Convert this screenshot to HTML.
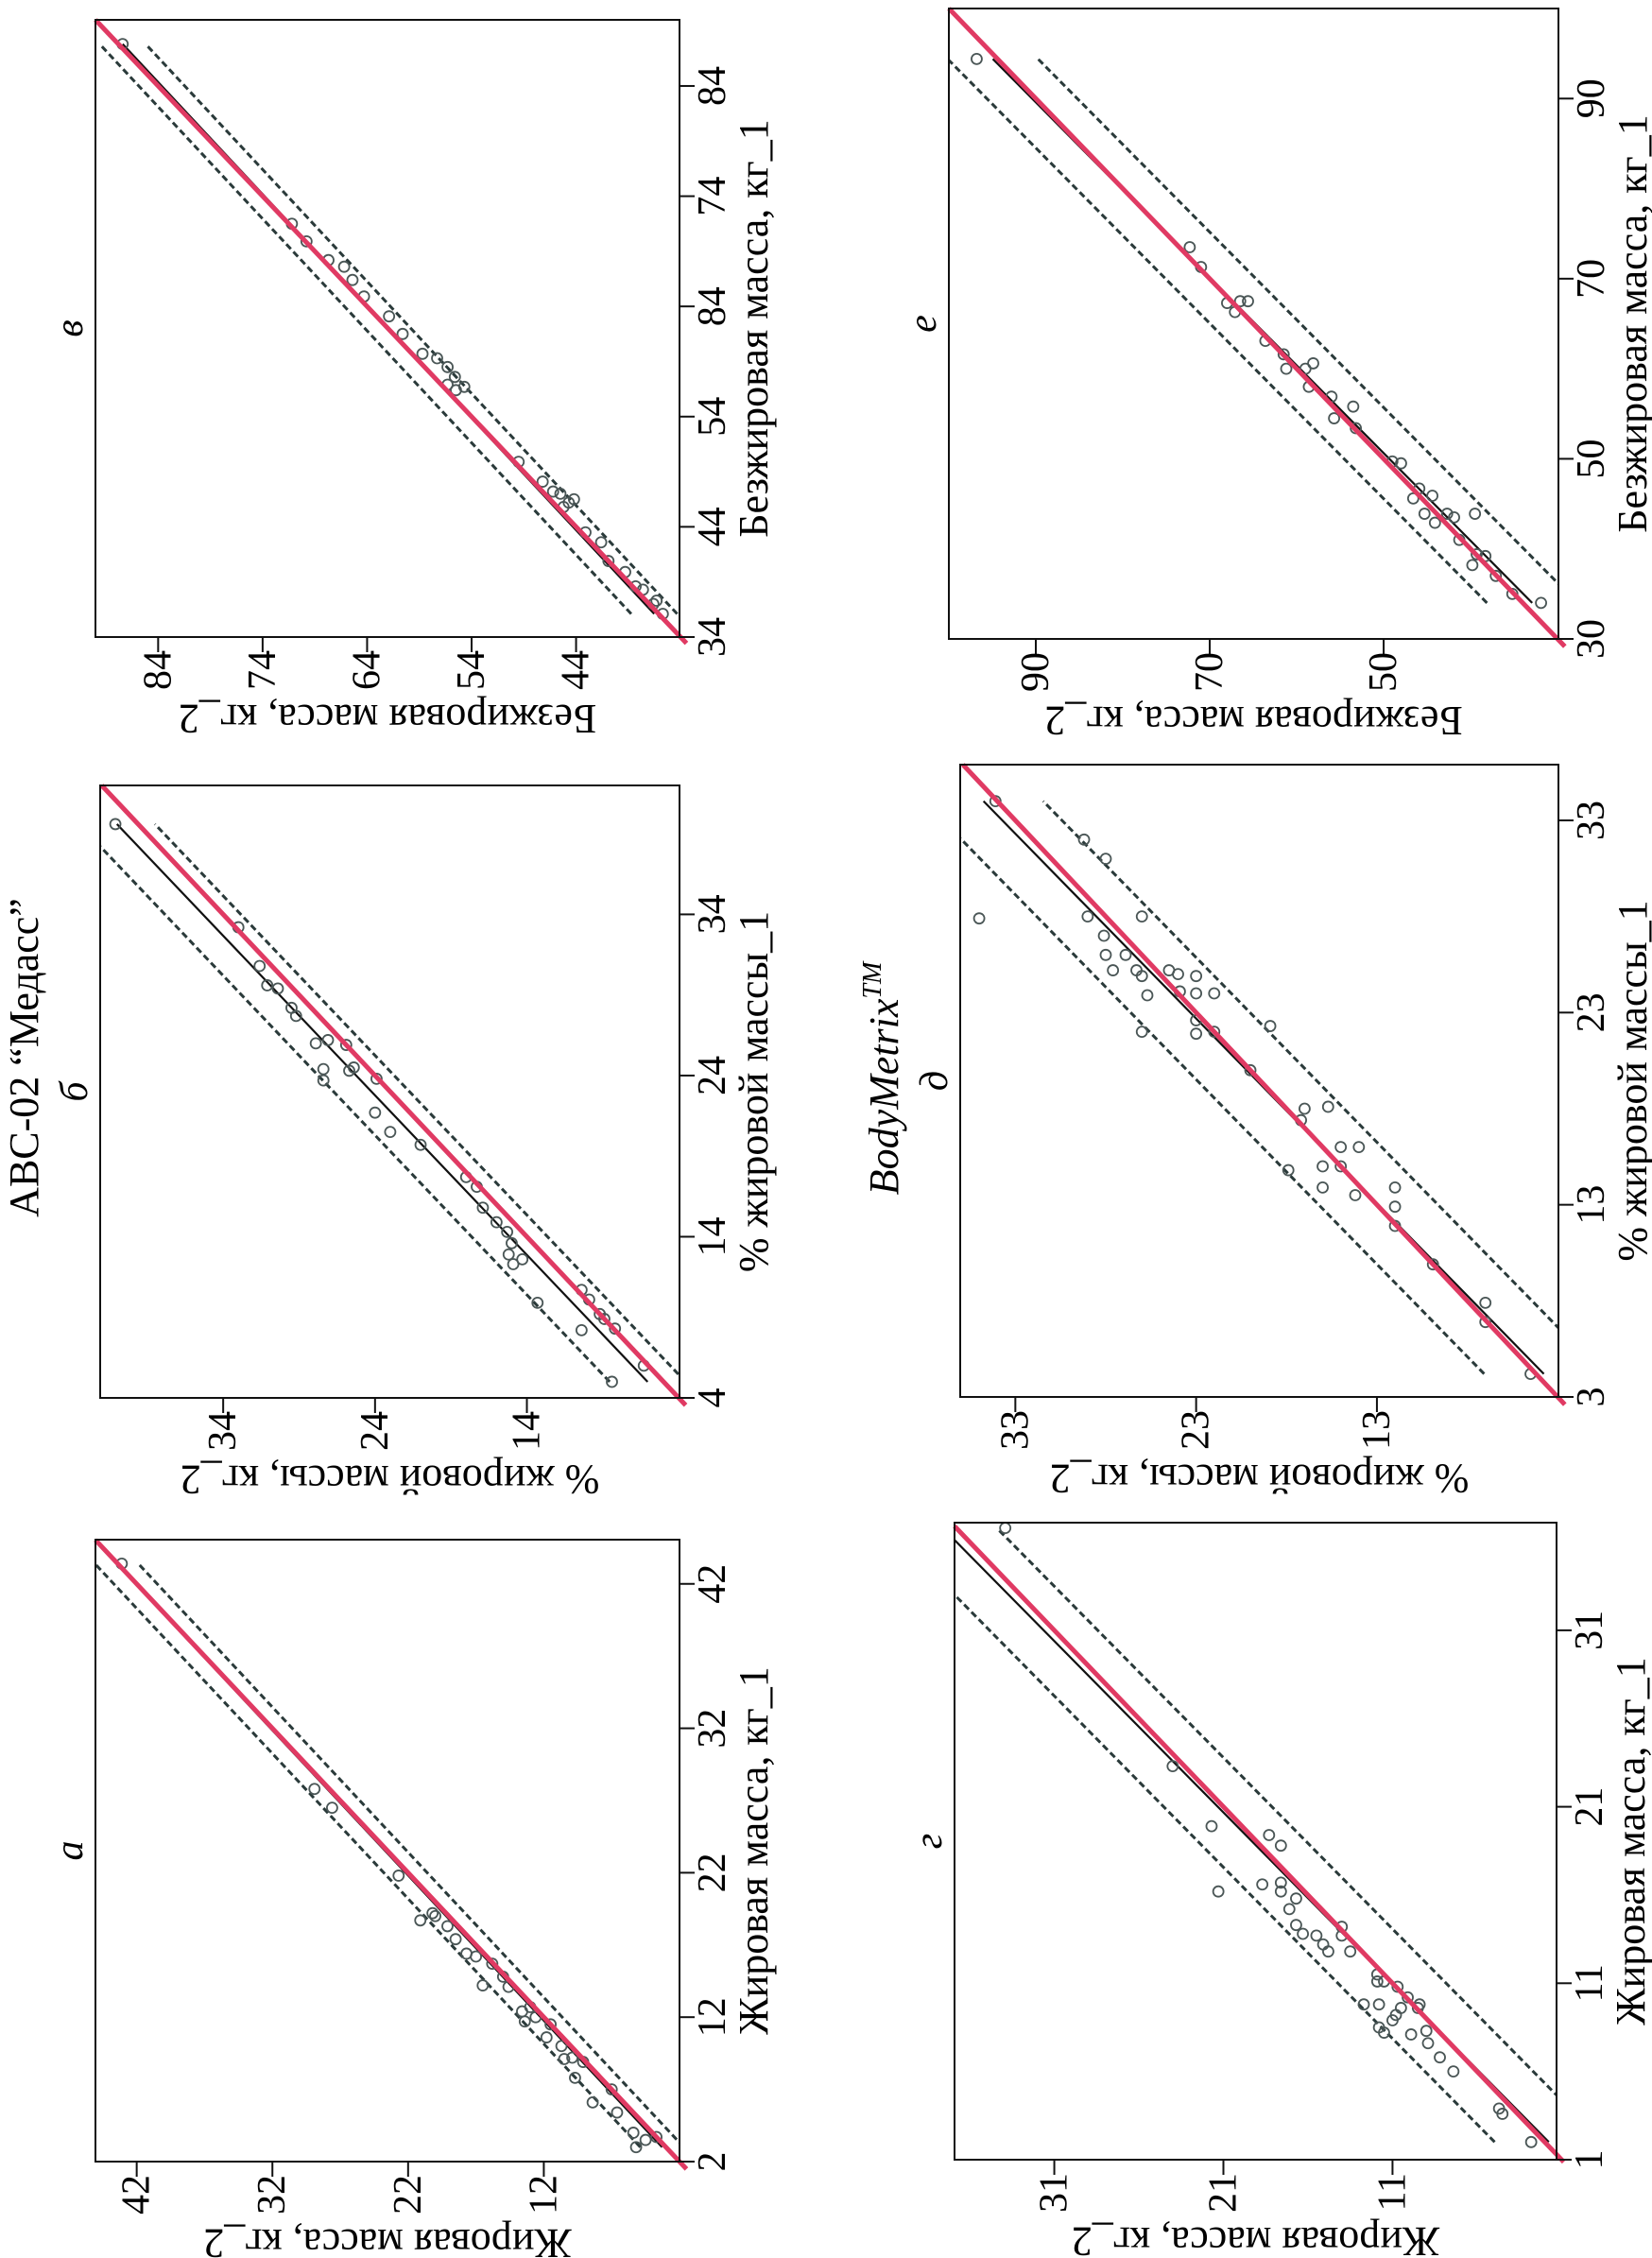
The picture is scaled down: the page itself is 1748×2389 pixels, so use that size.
<!DOCTYPE html>
<html><head><meta charset="utf-8">
<style>
html,body{margin:0;padding:0;background:#fff;}
svg{display:block;font-family:"Liberation Serif","DejaVu Serif",serif;}
</style></head>
<body>
<svg id="fig" xmlns="http://www.w3.org/2000/svg" width="1748" height="2389" viewBox="0 0 1748 2389">
<rect width="1748" height="2389" fill="#fff"/>
<g id="root" transform="translate(0,2389) rotate(-90)">
<text x="1270" y="40" font-size="44" text-anchor="middle">ABC-02 “Медасс”</text>
<text x="1248" y="950" font-size="44" font-style="italic" text-anchor="middle">BodyMetrix<tspan font-size="28" dy="-18">TM</tspan></text>
</g>
</svg>
<script>
// ---- data arrays ----
const aX=[43.4,27.8,26.5,21.8,18.7,19.2,18.3,17.4,16.4,14.2,15.7,14.8,12.4,11.7,12.7,10.6,11.5,9.1,9.2,7.8,8.9,6.1,7.0,5.4,4.0,3.0,3.5,3.7,10.0,12.0,14.1,16.2,19.0];
const aY=[43.1,28.9,27.6,22.7,21.1,20.2,19.1,18.5,17.7,16.5,15.8,15.0,13.6,13.4,13.0,11.8,11.5,10.5,9.9,9.7,9.1,8.4,7.0,6.6,5.4,5.2,4.5,3.7,10.7,12.6,14.6,17.0,20.0];
const bX=[39.6,33.2,30.8,29.6,29.4,28.2,27.7,26.0,26.2,24.4,23.7,25.9,24.3,24.5,23.8,21.7,20.5,19.7,17.7,17.1,15.8,14.9,14.3,13.6,12.9,12.3,12.6,9.9,10.7,10.1,9.2,8.2,5.0,6.0,8.9,8.3];
const bY=[41.1,33.0,31.6,31.1,30.4,29.5,29.2,27.9,27.1,27.4,27.4,25.9,25.7,25.4,23.9,24.0,23.0,21.0,18.0,17.3,16.9,16.0,15.3,15.0,15.2,14.9,14.3,13.3,10.4,9.9,9.2,10.4,8.4,6.3,8.9,8.2];
const vX=[87.8,69.9,67.6,66.4,64.9,63.1,61.5,59.7,59.3,58.5,57.6,56.9,56.7,56.4,49.9,48.1,47.2,47.0,46.2,46.5,45.8,43.5,42.6,40.9,39.9,38.3,38.6,37.3,36.1,37.0,71.5,68.2];
const vY=[87.4,69.8,66.2,65.4,64.3,61.9,60.6,58.7,57.3,56.3,55.6,56.3,54.7,55.5,49.5,47.2,46.2,45.5,44.7,44.2,45.2,43.1,41.6,40.9,39.3,37.6,38.3,36.3,35.7,36.6,71.2,67.7];
const gX=[36.8,23.3,19.9,16.2,16.6,19.4,18.8,16.7,16.2,15.2,15.8,14.3,13.8,13.7,13.2,12.8,14.2,13.7,12.8,9.8,11.5,11.1,9.8,11.1,8.5,8.2,8.9,9.2,9.6,10.8,10.2,8.1,9.6,9.8,8.3,7.6,6.8,6.0,3.9,3.6,2.0];
const gY=[33.9,24.0,21.7,21.3,18.7,18.3,17.6,17.6,17.6,17.1,16.7,16.7,16.3,15.5,15.1,14.8,14.0,14.0,13.5,12.7,11.9,11.9,11.8,11.5,11.8,11.5,11.0,10.8,10.5,10.7,10.1,9.9,9.5,9.4,9.0,8.9,8.2,7.4,4.7,4.5,2.8];
const dX=[34.0,27.9,32.0,31.0,28.0,28.0,27.0,26.0,25.2,26.0,25.2,24.9,23.9,22.0,25.2,25.0,24.1,24.9,24.0,24.0,22.6,21.9,22.0,22.3,20.0,14.8,17.4,18.0,18.1,13.9,15.0,16.0,15.0,16.0,13.5,13.9,12.9,11.9,9.9,7.9,6.9,4.2];
const dY=[34.1,35.0,29.2,28.0,29.0,26.0,28.1,28.0,27.6,26.9,26.3,26.0,25.7,26.0,24.5,24.0,23.9,23.0,23.0,22.0,23.0,23.0,22.0,18.9,20.0,17.9,17.2,17.0,15.7,16.0,16.0,15.0,15.0,14.0,14.2,12.0,12.0,12.0,9.9,7.0,7.0,4.5];
const eX=[94.4,73.5,71.3,67.3,66.3,67.5,67.5,63.1,61.6,60.0,60.0,60.6,58.0,56.9,54.5,55.8,53.4,49.7,49.5,45.6,46.7,43.9,42.9,43.9,43.5,41.0,43.9,38.2,39.4,39.2,37.0,35.0,34.0,45.9];
const eY=[96.8,72.3,71.0,68.0,67.1,66.5,65.6,63.6,61.5,61.2,59.0,58.1,58.6,56.0,55.7,53.5,53.2,49.0,48.0,46.6,45.9,45.3,44.1,42.7,41.9,41.3,39.5,39.8,39.3,38.3,37.1,35.2,31.9,44.4];
// regression intercept, slope, band half-width
const fitA=[0.3,0.995,1.6];
const fitB=[1.0,1.01,2.5];
const fitV=[1.0,0.984,2.2];
const fitG=[-0.3,1.03,3.2];
const fitD=[-0.6,1.04,3.3];
const fitE=[-2.0,1.027,5.2];
// tick labels
const aTicks=["2","12","22","32","42"];
const bTicks=["4","14","24","34"];
const vXTicks=["34","44","54","84","74","84"];
const vYTicks=["44","54","64","74","84"];
const gTicks=["1","11","21","31"];
const dTicks=["3","13","23","33"];
const eTicks=["30","50","70","90"];

const NS="http://www.w3.org/2000/svg";
const root=document.getElementById('root');
function mk(tag,attrs,parent){const e=document.createElementNS(NS,tag);for(const k in attrs)e.setAttribute(k,attrs[k]);(parent||root).appendChild(e);return e;}
function aFitGet(k){return {a:fitA,b:fitB,v:fitV,g:fitG,d:fitD,e:fitE}[k];}

const panels=[
 {id:'a',letter:'а',X:aX,Y:aY,fit:aFitGet('a'),box:[102,760,101,719],xr:[2,45.06],yr:[2,45.04],xt:aTicks.map(Number),xl:aTicks,yt:[12,22,32,42],yl:["12","22","32","42"],xtitle:'Жировая масса, кг_1',ytitle:'Жировая масса, кг_2'},
 {id:'b',letter:'б',X:bX,Y:bY,fit:aFitGet('b'),box:[910,1558,106,719],xr:[4,42],yr:[3.95,42.1],xt:bTicks.map(Number),xl:bTicks,yt:[14,24,34],yl:["14","24","34"],xtitle:'% жировой массы_1',ytitle:'% жировой массы, кг_2'},
 {id:'v',letter:'в',X:vX,Y:vY,fit:aFitGet('v'),box:[1715,2368,101,719],xr:[34,90],yr:[34.1,90],xt:[34,44,54,64,74,84],xl:vXTicks,yt:vYTicks.map(Number),yl:vYTicks,xtitle:'Безжировая масса, кг_1',ytitle:'Безжировая масса, кг_2'},
 {id:'g',letter:'г',X:gX,Y:gY,fit:aFitGet('g'),box:[104,778,1010,1647],xr:[1,37.1],yr:[1.3,36.9],xt:gTicks.map(Number),xl:gTicks,yt:[11,21,31],yl:["11","21","31"],xtitle:'Жировая масса, кг_1',ytitle:'Жировая масса, кг_2'},
 {id:'d',letter:'д',X:dX,Y:dY,fit:aFitGet('d'),box:[911,1580,1016,1649],xr:[3,35.9],yr:[2.96,36.05],xt:dTicks.map(Number),xl:dTicks,yt:[13,23,33],yl:["13","23","33"],xtitle:'% жировой массы_1',ytitle:'% жировой массы, кг_2'},
 {id:'e',letter:'е',X:eX,Y:eY,fit:aFitGet('e'),box:[1713,2380,1004,1649],xr:[30,100],yr:[29.9,100],xt:eTicks.map(Number),xl:eTicks,yt:[50,70,90],yl:["50","70","90"],xtitle:'Безжировая масса, кг_1',ytitle:'Безжировая масса, кг_2'}
];

panels.forEach(p=>{
 const [x0,x1,y0,y1]=p.box;
 const sx=v=>x0+(v-p.xr[0])/(p.xr[1]-p.xr[0])*(x1-x0);
 const sy=v=>y1-(v-p.yr[0])/(p.yr[1]-p.yr[0])*(y1-y0);
 const g=mk('g',{});
 
 
 const clipId='clip-'+p.id;
 const cp=mk('clipPath',{id:clipId},g);
 mk('rect',{x:x0,y:y0,width:x1-x0,height:y1-y0},cp);
 const [ic,sl,bw]=p.fit;
 const xmn=Math.min(...p.X), xmx=Math.max(...p.X);
 const lines=mk('g',{'clip-path':'url(#'+clipId+')'},g);
 [[bw,'upper'],[-bw,'lower']].forEach(([o,nm])=>{
  const l=mk('line',{x1:sx(xmn),y1:sy(ic+sl*xmn+o),x2:sx(xmx),y2:sy(ic+sl*xmx+o),stroke:'#2a3a3a','stroke-width':3,'stroke-dasharray':'7 4'},lines);
  
  
 });
 const rl=mk('line',{x1:sx(xmn),y1:sy(ic+sl*xmn),x2:sx(xmx),y2:sy(ic+sl*xmx),stroke:'#111','stroke-width':2.2},lines);
 
 
 p.X.forEach((xv,i)=>{
  const c=mk('circle',{cx:sx(xv),cy:sy(p.Y[i]),r:5.5,fill:'none',stroke:'#4a5656','stroke-width':1.8},g);
  
  
 });
 const lo=Math.max(p.xr[0],p.yr[0]), hi=Math.min(p.xr[1],p.yr[1]);
 const span=hi-lo;
 const il=mk('line',{x1:sx(lo-0.012*span),y1:sy(lo-0.012*span),x2:sx(hi),y2:sy(hi),stroke:'#e03a63','stroke-width':5},g);
 
 
 const bx=mk('rect',{x:x0,y:y0,width:x1-x0,height:y1-y0,fill:'none',stroke:'#111','stroke-width':2},g);
 
 
 p.xt.forEach((v,i)=>{
  const X=sx(v);
  mk('line',{x1:X,y1:y1,x2:X,y2:y1+16,stroke:'#111','stroke-width':2},g);
  const t=mk('text',{x:X,y:y1+48,'font-size':42,'text-anchor':'middle'},g);
  t.textContent=p.xl[i];
  
  
 });
 p.yt.forEach((v,i)=>{
  const Y=sy(v);
  mk('line',{x1:x0,y1:Y,x2:x0-16,y2:Y,stroke:'#111','stroke-width':2},g);
  const t=mk('text',{x:x0-14,y:Y,'font-size':42,'text-anchor':'end','dominant-baseline':'central'},g);
  t.textContent=p.yl[i];
  
  
 });
 const xt=mk('text',{x:(x0+x1)/2,y:y1+93,'font-size':44,'text-anchor':'middle'},g);
 xt.textContent=p.xtitle;
 
 
 const yt=mk('text',{x:0,y:0,'font-size':44,'text-anchor':'middle',transform:'translate('+(x0-72)+','+((y0+y1)/2)+') rotate(-90)'},g);
 yt.textContent=p.ytitle;
 
 
 const lt=mk('text',{x:(x0+x1)/2,y:y0-14,'font-size':42,'font-style':'italic','text-anchor':'middle'},g);
 lt.textContent=p.letter;
 
 
});
</script>
</body></html>
